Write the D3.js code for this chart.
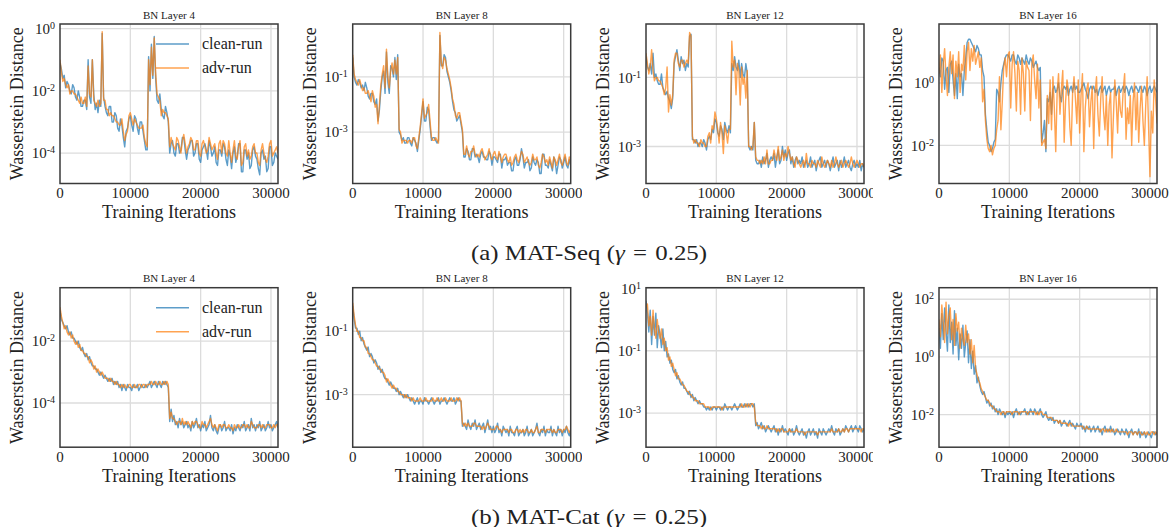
<!DOCTYPE html>
<html>
<head>
<meta charset="utf-8">
<script src="https://cdn.jsdelivr.net/npm/d3@7"></script>
<style>
  body { margin: 0; background: #fff; }
  svg text { font-family: "Liberation Serif", "Times New Roman", serif; fill: #222; }
</style>
</head>
<body>
<svg id="fig" width="1169" height="527"></svg>
<script>
"use strict";

// logging interval of the runs, in iterations
var step = 200;
var xTicks = [0, 10000, 20000, 30000];
var layers = [4, 8, 12, 16];
var seriesNames = ["clean-run", "adv-run"];
var captions = ["(a) MAT-Seq", "(b) MAT-Cat"];

// all series: log10 of the Wasserstein distance, one value every `step` iterations
// (each row of 10 = 2000 iterations)

// ---- MAT-Seq ----
var seq4Clean = [-1.1,-1.3,-1.6,-1.5,-1.9,-1.7,-1.8,-2.0,-2.1,-1.8,
  -1.9,-2.2,-2.3,-2.0,-2.2,-2.5,-2.5,-2.3,-2.3,-2.6,
  -1.0,-2.2,-2.4,-1.0,-2.1,-2.6,-2.4,-2.7,-2.3,-2.5,
  -0.15,-2.2,-2.5,-2.7,-2.8,-2.5,-2.5,-3.0,-3.0,-2.7,
  -2.8,-3.2,-3.3,-2.9,-3.1,-3.5,-3.8,-3.3,-3.2,-2.9,
  -2.8,-3.1,-3.3,-2.8,-2.9,-3.2,-3.4,-3.0,-3.0,-3.3,
  -3.6,-3.9,-3.9,-0.9,-2.0,-0.5,-1.6,-0.25,-1.6,-2.3,
  -2.4,-2.1,-2.6,-2.8,-2.9,-2.5,-2.7,-3.0,-4.0,-3.7,
  -3.6,-4.0,-4.1,-3.7,-3.7,-4.0,-3.9,-3.5,-3.5,-3.9,
  -4.2,-3.9,-3.8,-3.6,-3.6,-4.1,-4.0,-3.7,-3.7,-4.2,
  -4.3,-3.9,-3.8,-3.7,-3.9,-4.2,-3.6,-3.8,-4.1,-4.0,
  -3.8,-4.3,-4.4,-3.9,-3.9,-4.1,-3.7,-3.8,-4.2,-4.4,
  -3.9,-4.1,-4.5,-4.0,-3.8,-4.3,-4.1,-3.7,-3.7,-4.6,
  -4.6,-3.9,-3.9,-4.2,-4.0,-4.5,-4.4,-3.9,-3.8,-4.1,
  -4.2,-4.5,-4.7,-4.0,-3.9,-4.2,-4.1,-4.6,-4.5,-3.8,
  -3.8,-4.4,-4.3,-4.0,-4.1,-4.2];
var seq4Adv = [-1.0,-1.4,-1.7,-1.6,-1.8,-1.9,-1.8,-2.1,-2.0,-2.0,
  -2.1,-2.1,-2.2,-2.3,-2.4,-2.2,-2.4,-2.4,-2.2,-2.5,
  -1.2,-2.1,-2.2,-1.0,-2.3,-2.4,-2.5,-2.3,-2.5,-2.4,
  -0.1,-2.3,-2.3,-2.6,-2.6,-2.8,-2.7,-2.8,-2.8,-2.9,
  -3.0,-3.0,-3.1,-3.1,-2.9,-3.3,-3.6,-3.4,-3.3,-2.8,
  -2.7,-2.9,-3.1,-2.9,-3.0,-3.1,-3.2,-3.2,-3.2,-3.1,
  -3.5,-3.7,-3.8,-1.0,-1.8,-0.6,-1.5,-0.3,-1.4,-2.1,
  -2.2,-2.3,-2.8,-2.6,-2.7,-2.7,-2.8,-2.9,-3.8,-3.5,
  -3.7,-3.8,-3.9,-3.5,-3.6,-3.8,-4.0,-3.6,-3.4,-3.7,
  -4.0,-3.8,-3.7,-3.5,-3.6,-3.9,-3.9,-3.6,-3.6,-4.0,
  -4.1,-3.7,-3.6,-3.8,-4.0,-3.9,-3.5,-3.7,-3.9,-3.8,
  -3.7,-4.0,-4.2,-3.7,-3.6,-4.0,-3.6,-3.7,-4.0,-4.1,
  -3.6,-4.0,-4.3,-3.9,-3.6,-4.1,-4.2,-3.8,-3.6,-4.4,
  -4.3,-3.8,-3.7,-4.1,-3.9,-4.2,-4.1,-3.8,-3.7,-4.0,
  -4.0,-4.3,-4.4,-3.9,-3.7,-4.0,-4.2,-4.3,-4.1,-3.7,
  -3.6,-4.1,-4.0,-3.9,-3.8,-4.0];

var seq8Clean = [-0.3,-1.0,-1.2,-1.3,-1.1,-1.2,-1.4,-1.3,-1.5,-1.2,
  -1.4,-1.7,-1.8,-1.6,-1.6,-1.9,-2.0,-1.8,-2.6,-2.2,
  -1.5,-1.0,-0.8,-1.6,-0.1,-1.2,-1.6,-0.6,-0.7,-1.0,
  -0.3,-1.1,-0.2,-3.0,-3.1,-3.3,-3.2,-3.4,-3.4,-3.2,
  -3.2,-3.4,-3.5,-3.2,-3.3,-3.4,-3.7,-3.3,-2.9,-2.4,
  -1.9,-2.6,-2.6,-2.1,-2.2,-2.8,-3.3,-3.2,-3.2,-3.3,
  -3.4,-3.3,0.5,-0.6,-0.6,-0.2,-0.3,-0.8,-1.0,-1.2,
  -1.5,-1.9,-2.2,-2.3,-2.6,-2.5,-2.4,-2.7,-3.0,-3.9,
  -3.9,-3.6,-3.7,-4.0,-4.0,-3.6,-3.6,-3.9,-3.8,-3.9,
  -4.1,-3.8,-3.7,-3.9,-3.9,-4.0,-4.0,-3.7,-3.8,-4.2,
  -3.9,-3.9,-4.0,-4.1,-3.8,-3.8,-4.3,-4.0,-4.0,-3.9,
  -4.2,-4.1,-4.1,-4.4,-4.4,-4.0,-3.9,-4.2,-4.2,-4.0,
  -3.6,-3.9,-4.3,-4.1,-4.1,-4.0,-4.4,-4.3,-3.9,-4.1,
  -4.2,-4.0,-4.1,-4.5,-4.5,-3.8,-3.8,-4.2,-4.2,-4.3,
  -4.0,-4.2,-4.4,-3.9,-4.1,-4.5,-4.2,-3.9,-4.0,-4.3,
  -4.1,-3.9,-4.2,-4.3,-4.0,-4.2];
var seq8Adv = [-0.2,-0.9,-1.1,-1.2,-1.3,-1.1,-1.3,-1.5,-1.4,-1.6,
  -1.6,-1.5,-1.7,-1.9,-1.5,-1.7,-2.1,-2.0,-2.7,-2.0,
  -1.3,-0.9,-0.6,-1.4,0.0,-1.0,-1.4,-0.8,-0.5,-0.9,
  -0.4,-0.9,-0.3,-2.9,-3.0,-3.4,-3.3,-3.3,-3.3,-3.4,
  -3.3,-3.3,-3.4,-3.2,-3.2,-3.5,-3.6,-3.2,-2.8,-2.3,
  -1.8,-2.5,-2.4,-2.3,-2.0,-2.6,-3.2,-3.3,-3.3,-3.2,
  -3.3,-3.4,0.6,-0.5,-0.7,-0.3,-0.4,-0.7,-0.9,-1.1,
  -1.4,-1.8,-2.0,-2.4,-2.5,-2.3,-2.3,-2.6,-2.9,-3.8,
  -3.8,-3.5,-3.8,-3.9,-3.7,-3.7,-3.5,-3.8,-3.9,-3.8,
  -3.9,-3.7,-3.6,-3.8,-4.0,-3.9,-3.8,-3.6,-3.9,-4.0,
  -3.8,-3.7,-3.9,-4.0,-3.7,-3.9,-4.1,-3.9,-3.8,-3.8,
  -4.0,-4.1,-3.9,-4.2,-4.1,-3.9,-3.8,-4.0,-4.1,-3.9,
  -3.7,-3.8,-4.1,-4.0,-3.9,-4.1,-4.2,-4.1,-3.8,-4.0,
  -4.0,-3.9,-4.2,-4.3,-4.1,-3.8,-3.9,-4.1,-4.0,-4.2,
  -3.9,-4.1,-4.3,-3.9,-4.0,-4.2,-4.0,-3.8,-4.1,-4.2,
  -4.0,-3.8,-4.1,-4.2,-3.9,-4.1];

var seq12Clean = [-0.4,-0.7,-0.8,-0.6,-0.9,-0.3,-1.0,-0.9,-1.1,-1.2,
  -1.2,-0.9,-1.3,-1.4,-1.5,-1.4,-1.6,-1.7,-1.9,-1.6,
  -0.6,-0.4,-0.2,-0.5,-0.8,-0.4,-0.6,-0.5,-0.8,-0.6,
  -0.7,0.2,0.25,-2.8,-2.8,-2.9,-2.8,-3.0,-2.9,-2.9,
  -3.0,-2.8,-2.9,-3.1,-2.8,-2.7,-2.8,-2.5,-2.6,-2.2,
  -2.3,-2.6,-2.7,-2.4,-2.5,-2.8,-2.3,-2.5,-2.6,-2.4,
  -2.6,-0.6,-0.8,-0.4,-0.7,-0.8,-0.5,-1.0,-0.6,-0.9,
  -1.0,-0.6,-0.9,-3.0,-3.1,-3.0,-3.1,-2.3,-3.4,-3.5,
  -3.5,-3.4,-3.6,-3.3,-3.5,-3.4,-3.2,-3.6,-3.4,-3.3,
  -3.4,-3.2,-3.6,-3.3,-3.1,-3.5,-3.4,-3.0,-3.3,-3.1,
  -3.4,-3.2,-3.1,-3.5,-3.3,-3.6,-3.4,-3.3,-3.5,-3.4,
  -3.5,-3.3,-3.6,-3.5,-3.4,-3.6,-3.5,-3.3,-3.6,-3.5,
  -3.4,-3.7,-3.5,-3.4,-3.3,-3.6,-3.5,-3.4,-3.6,-3.4,
  -3.5,-3.7,-3.5,-3.3,-3.6,-3.5,-3.4,-3.7,-3.4,-3.6,
  -3.5,-3.3,-3.6,-3.5,-3.4,-3.6,-3.7,-3.5,-3.4,-3.6,
  -3.5,-3.6,-3.4,-3.7,-3.5,-3.6];
var seq12Adv = [-0.3,-0.6,-0.9,-0.7,-0.2,-0.8,-1.1,-1.0,-1.0,-1.1,
  -1.1,-1.2,-1.3,-1.5,-1.3,-0.7,-2.0,-1.5,-1.8,-1.5,
  -0.5,-0.3,-0.3,-0.6,-0.7,-0.5,-0.5,-0.7,-0.6,-0.5,
  -0.6,0.3,0.2,-2.7,-2.9,-2.8,-2.9,-2.9,-3.0,-2.8,
  -2.9,-2.9,-3.0,-3.0,-2.7,-2.6,-2.9,-2.4,-2.5,-2.0,
  -2.2,-2.5,-2.9,-2.3,-2.6,-3.2,-2.4,-2.6,-2.9,-2.5,
  -2.5,0.05,-0.7,-0.5,-1.5,-0.6,-0.8,-1.8,-0.7,-1.2,
  -1.0,-1.6,-0.8,-3.0,-3.0,-3.1,-3.0,-2.3,-3.3,-3.4,
  -3.4,-3.5,-3.4,-3.5,-3.3,-3.5,-3.1,-3.5,-3.5,-3.4,
  -3.4,-3.1,-3.3,-3.4,-3.0,-3.4,-3.3,-3.1,-3.4,-3.2,
  -3.3,-3.0,-3.2,-3.4,-3.3,-3.5,-3.6,-3.3,-3.4,-3.5,
  -3.6,-3.5,-3.4,-3.6,-3.2,-3.5,-3.5,-3.6,-3.4,-3.5,
  -3.5,-3.6,-3.4,-3.5,-3.6,-3.3,-3.5,-3.6,-3.5,-3.4,
  -3.5,-3.6,-3.4,-3.6,-3.5,-3.3,-3.5,-3.6,-3.5,-3.4,
  -3.6,-3.5,-3.4,-3.5,-3.6,-3.5,-3.3,-3.5,-3.6,-3.5,
  -3.4,-3.5,-3.6,-3.5,-3.5,-3.6];

var seq16Clean = [0.5,0.2,0.8,0.7,-0.2,0.4,0.5,-0.3,0.6,0.7,
  0.1,-0.4,0.3,-0.5,0.6,0.2,0.3,-0.4,0.4,0.8,
  1.3,1.4,1.4,1.3,1.2,1.1,1.0,1.2,1.1,0.9,
  0.9,0.4,0.2,-1.0,-1.5,-1.9,-2.0,-2.2,-2.1,-1.9,
  -1.8,-0.2,-0.3,-0.6,0.0,0.4,0.6,0.8,0.9,0.9,
  0.8,0.7,0.9,0.9,0.7,0.6,0.9,0.8,0.6,0.8,
  0.7,0.6,0.9,0.7,0.6,0.8,0.7,0.5,0.6,0.7,
  0.5,0.4,0.5,-1.9,-1.6,-1.2,-2.2,-0.5,-0.6,-0.3,
  -1.0,-0.2,-0.1,-0.3,-0.2,0.0,-0.4,-0.6,-0.2,-0.1,
  -0.2,-0.1,-0.4,-0.2,-0.1,-0.3,0.0,-0.2,-0.1,-0.3,
  -0.3,-0.2,-0.1,0.0,-0.2,-0.3,-0.5,-0.2,-0.1,-0.2,
  -0.1,-0.3,-0.2,-0.4,-0.2,-0.1,-0.3,-0.2,-0.1,-0.4,
  -0.2,-0.1,-0.3,-0.2,-0.2,-0.1,-0.4,-0.2,-0.1,-0.3,
  -0.2,-0.1,-0.3,-0.1,-0.2,-0.4,-0.2,-0.1,-0.3,-0.2,
  -0.1,-0.2,-0.3,-0.1,-0.2,-0.3,-0.1,-0.2,-0.4,-0.2,
  -0.1,-0.3,-0.2,-0.1,-0.2,-0.3];
var seq16Adv = [0.3,0.9,-0.3,0.6,1.1,0.2,-0.4,0.5,1.0,0.3,
  0.9,-0.5,0.7,0.2,1.0,-0.3,0.6,0.4,1.2,0.1,
  1.0,1.3,0.4,1.1,0.7,1.2,0.6,0.8,1.0,0.5,
  0.8,-0.6,-0.2,-1.2,-1.8,-2.1,-2.2,-2.0,-2.3,-2.1,
  -2.0,-1.5,-1.2,0.2,-1.5,-0.6,0.5,0.8,0.2,0.9,
  1.0,-0.8,0.6,1.0,0.3,-0.9,0.7,0.4,-1.0,0.8,
  0.3,-0.9,0.7,0.5,0.4,-1.2,0.6,0.9,0.1,-0.5,
  0.6,-0.8,0.1,-2.0,-1.9,-1.8,-2.1,-0.4,-1.3,0.1,
  -1.5,0.2,-0.8,-2.2,-0.3,0.3,-1.0,-0.2,0.4,-1.9,
  -0.6,0.1,-0.2,-1.4,-2.0,-0.3,0.2,-0.5,-1.3,0.1,
  -1.6,-0.4,0.3,-2.2,-0.8,-0.2,0.0,-1.4,-0.6,-0.1,
  -2.1,-0.3,0.2,-1.0,-1.7,-0.5,0.2,-0.9,-1.5,-0.4,
  -2.0,-0.7,-0.3,-2.4,-1.1,0.1,-0.6,-1.6,-0.2,-0.9,
  -1.1,-0.2,0.3,-1.8,-0.8,-1.3,-0.4,-2.0,-0.6,0.0,
  -1.5,-0.3,-1.9,-0.8,-0.1,-1.2,-2.0,-0.7,0.2,-1.4,
  -3.0,-0.9,-1.6,0.1,-0.5,-1.3];

// ---- MAT-Cat ----
var cat4Clean = [-1.0,-1.3,-1.4,-1.5,-1.6,-1.5,-1.7,-1.8,-1.7,-1.9,
  -1.9,-2.0,-2.1,-2.0,-2.2,-2.3,-2.2,-2.4,-2.5,-2.4,
  -2.6,-2.5,-2.7,-2.8,-2.8,-2.9,-2.9,-3.0,-3.1,-3.0,
  -3.1,-3.2,-3.1,-3.2,-3.3,-3.2,-3.3,-3.2,-3.4,-3.3,
  -3.4,-3.3,-3.5,-3.4,-3.6,-3.4,-3.5,-3.6,-3.4,-3.5,
  -3.5,-3.6,-3.4,-3.5,-3.5,-3.4,-3.6,-3.5,-3.4,-3.5,
  -3.5,-3.4,-3.5,-3.4,-3.3,-3.5,-3.4,-3.3,-3.4,-3.5,
  -3.3,-3.4,-3.5,-3.3,-3.4,-3.3,-3.4,-3.5,-4.6,-4.2,
  -4.6,-4.4,-4.7,-4.6,-4.8,-4.5,-4.7,-4.6,-4.8,-4.7,
  -4.6,-4.8,-4.7,-4.9,-4.6,-4.8,-4.7,-4.5,-4.8,-4.7,
  -4.9,-4.7,-4.8,-4.6,-4.9,-4.8,-4.7,-4.4,-4.8,-4.9,
  -4.7,-4.9,-5.0,-4.8,-4.7,-4.9,-4.8,-4.6,-4.9,-4.8,
  -4.8,-4.9,-4.7,-5.0,-4.8,-4.9,-4.7,-4.8,-4.9,-4.7,
  -4.8,-4.6,-4.9,-4.8,-4.7,-4.9,-4.5,-4.8,-4.7,-4.9,
  -4.7,-4.8,-4.6,-4.9,-4.8,-4.7,-4.9,-4.8,-4.6,-4.8,
  -4.7,-4.9,-4.8,-4.7,-4.6,-4.8];
var cat4Adv = [-0.9,-1.2,-1.4,-1.6,-1.5,-1.7,-1.8,-1.7,-1.9,-1.8,
  -2.0,-2.1,-2.0,-2.2,-2.1,-2.3,-2.3,-2.4,-2.4,-2.5,
  -2.5,-2.7,-2.6,-2.7,-2.9,-2.8,-3.0,-2.9,-3.0,-3.1,
  -3.0,-3.1,-3.2,-3.2,-3.2,-3.3,-3.2,-3.3,-3.3,-3.4,
  -3.3,-3.4,-3.4,-3.5,-3.4,-3.5,-3.4,-3.5,-3.5,-3.4,
  -3.4,-3.5,-3.5,-3.4,-3.5,-3.5,-3.4,-3.4,-3.5,-3.4,
  -3.4,-3.5,-3.4,-3.4,-3.4,-3.3,-3.4,-3.4,-3.3,-3.4,
  -3.4,-3.3,-3.4,-3.4,-3.3,-3.4,-3.3,-3.4,-4.5,-4.3,
  -4.5,-4.5,-4.6,-4.7,-4.6,-4.6,-4.7,-4.5,-4.7,-4.6,
  -4.7,-4.6,-4.7,-4.8,-4.6,-4.7,-4.6,-4.6,-4.7,-4.8,
  -4.8,-4.6,-4.7,-4.7,-4.8,-4.7,-4.6,-4.5,-4.7,-4.8,
  -4.7,-4.8,-4.9,-4.7,-4.7,-4.8,-4.7,-4.7,-4.8,-4.8,
  -4.7,-4.8,-4.8,-4.9,-4.7,-4.8,-4.8,-4.7,-4.8,-4.8,
  -4.7,-4.7,-4.8,-4.7,-4.8,-4.8,-4.6,-4.7,-4.8,-4.8,
  -4.8,-4.7,-4.7,-4.8,-4.7,-4.8,-4.8,-4.7,-4.7,-4.7,
  -4.8,-4.8,-4.7,-4.8,-4.7,-4.7];

var cat8Clean = [-0.2,-0.6,-0.9,-0.9,-1.1,-1.0,-1.3,-1.2,-1.4,-1.5,
  -1.6,-1.5,-1.8,-1.7,-1.8,-2.0,-1.9,-2.0,-2.2,-2.1,
  -2.3,-2.2,-2.4,-2.5,-2.5,-2.6,-2.7,-2.6,-2.7,-2.8,
  -2.8,-2.9,-2.8,-3.0,-2.9,-3.0,-3.1,-3.0,-3.1,-3.0,
  -3.1,-3.2,-3.1,-3.2,-3.3,-3.2,-3.1,-3.3,-3.2,-3.2,
  -3.3,-3.1,-3.2,-3.2,-3.3,-3.2,-3.1,-3.2,-3.3,-3.2,
  -3.2,-3.1,-3.3,-3.2,-3.2,-3.1,-3.2,-3.3,-3.2,-3.1,
  -3.2,-3.2,-3.1,-3.3,-3.2,-3.1,-3.2,-3.2,-4.0,-3.9,
  -4.0,-4.1,-3.8,-4.0,-4.1,-3.9,-4.0,-3.8,-4.1,-4.0,
  -3.9,-4.1,-4.0,-3.9,-4.2,-4.0,-3.8,-4.1,-4.0,-4.2,
  -4.0,-4.2,-4.1,-3.9,-4.2,-4.1,-4.3,-4.0,-4.1,-4.2,
  -4.1,-4.3,-4.0,-4.2,-4.2,-4.3,-4.1,-4.0,-4.3,-4.2,
  -4.2,-4.1,-4.3,-4.2,-4.0,-4.3,-4.2,-4.1,-4.3,-4.2,
  -4.1,-3.9,-4.2,-4.3,-4.1,-4.2,-4.0,-4.3,-4.1,-4.2,
  -4.2,-4.0,-4.3,-4.1,-4.2,-4.3,-4.0,-4.2,-4.1,-4.3,
  -4.1,-4.2,-4.0,-4.2,-4.3,-4.1];
var cat8Adv = [-0.1,-0.5,-0.8,-1.0,-1.0,-1.2,-1.2,-1.3,-1.3,-1.5,
  -1.5,-1.7,-1.7,-1.8,-1.9,-1.9,-2.0,-2.1,-2.1,-2.2,
  -2.2,-2.3,-2.3,-2.4,-2.6,-2.5,-2.6,-2.7,-2.8,-2.7,
  -2.8,-2.8,-2.9,-2.9,-3.0,-3.0,-3.0,-3.1,-3.0,-3.1,
  -3.1,-3.1,-3.2,-3.1,-3.2,-3.2,-3.2,-3.2,-3.1,-3.2,
  -3.2,-3.2,-3.1,-3.2,-3.2,-3.2,-3.2,-3.1,-3.2,-3.2,
  -3.1,-3.2,-3.2,-3.1,-3.2,-3.2,-3.1,-3.2,-3.2,-3.2,
  -3.1,-3.2,-3.2,-3.2,-3.1,-3.2,-3.1,-3.2,-3.9,-4.0,
  -3.9,-4.0,-3.9,-4.0,-4.0,-4.0,-3.9,-3.9,-4.0,-4.0,
  -4.0,-4.0,-4.1,-4.0,-4.1,-4.0,-3.9,-4.0,-4.1,-4.1,
  -4.1,-4.1,-4.0,-4.0,-4.1,-4.1,-4.2,-4.1,-4.1,-4.1,
  -4.1,-4.2,-4.1,-4.1,-4.2,-4.2,-4.1,-4.1,-4.2,-4.1,
  -4.2,-4.1,-4.2,-4.1,-4.1,-4.2,-4.2,-4.1,-4.2,-4.2,
  -4.1,-4.0,-4.2,-4.2,-4.1,-4.1,-4.1,-4.2,-4.1,-4.1,
  -4.1,-4.1,-4.2,-4.1,-4.2,-4.2,-4.1,-4.1,-4.1,-4.2,
  -4.1,-4.1,-4.0,-4.1,-4.2,-4.1];

var cat12Clean = [0.6,0.2,-0.4,0.3,-0.8,0.1,-0.5,0.2,-0.9,-0.2,
  -0.5,-0.9,-0.3,-1.0,-0.7,-1.2,-1.1,-1.4,-1.3,-1.6,
  -1.7,-1.6,-1.9,-1.8,-2.0,-2.1,-2.0,-2.2,-2.2,-2.3,
  -2.4,-2.3,-2.5,-2.4,-2.6,-2.5,-2.6,-2.7,-2.6,-2.7,
  -2.7,-2.8,-2.8,-2.9,-2.8,-2.9,-2.8,-2.9,-2.8,-2.8,
  -2.9,-2.8,-2.8,-2.9,-2.8,-2.9,-2.7,-2.8,-2.9,-2.8,
  -2.8,-2.9,-2.8,-2.7,-2.8,-2.9,-2.8,-2.7,-2.8,-2.8,
  -2.7,-2.8,-2.7,-2.8,-2.7,-2.7,-2.8,-2.7,-3.4,-3.3,
  -3.5,-3.4,-3.3,-3.5,-3.4,-3.6,-3.5,-3.4,-3.5,-3.6,
  -3.5,-3.4,-3.6,-3.5,-3.7,-3.5,-3.6,-3.4,-3.6,-3.5,
  -3.6,-3.7,-3.5,-3.6,-3.5,-3.7,-3.6,-3.4,-3.6,-3.7,
  -3.6,-3.5,-3.7,-3.6,-3.8,-3.6,-3.5,-3.7,-3.6,-3.5,
  -3.7,-3.6,-3.8,-3.5,-3.6,-3.7,-3.5,-3.6,-3.7,-3.6,
  -3.5,-3.6,-3.4,-3.6,-3.7,-3.5,-3.6,-3.5,-3.7,-3.6,
  -3.5,-3.6,-3.4,-3.5,-3.6,-3.5,-3.4,-3.6,-3.5,-3.4,
  -3.5,-3.6,-3.4,-3.5,-3.6,-3.5];
var cat12Adv = [0.4,0.5,-0.2,0.1,-0.5,0.3,-0.3,-0.6,0.0,-0.4,
  -0.6,-0.3,-0.8,-0.6,-1.0,-0.9,-1.3,-1.2,-1.5,-1.4,
  -1.6,-1.8,-1.7,-1.9,-1.9,-2.0,-2.1,-2.1,-2.2,-2.3,
  -2.3,-2.4,-2.4,-2.5,-2.5,-2.6,-2.6,-2.6,-2.7,-2.7,
  -2.7,-2.7,-2.8,-2.8,-2.8,-2.8,-2.9,-2.8,-2.8,-2.8,
  -2.8,-2.8,-2.8,-2.8,-2.9,-2.8,-2.8,-2.8,-2.8,-2.8,
  -2.8,-2.8,-2.8,-2.8,-2.8,-2.8,-2.8,-2.8,-2.7,-2.8,
  -2.8,-2.7,-2.8,-2.7,-2.8,-2.7,-2.7,-2.8,-3.3,-3.4,
  -3.4,-3.4,-3.5,-3.4,-3.5,-3.5,-3.4,-3.5,-3.5,-3.5,
  -3.5,-3.5,-3.5,-3.6,-3.5,-3.6,-3.5,-3.5,-3.6,-3.6,
  -3.6,-3.6,-3.5,-3.6,-3.6,-3.6,-3.6,-3.5,-3.6,-3.6,
  -3.6,-3.6,-3.6,-3.7,-3.6,-3.6,-3.6,-3.6,-3.6,-3.6,
  -3.6,-3.6,-3.7,-3.6,-3.6,-3.6,-3.6,-3.6,-3.6,-3.6,
  -3.6,-3.6,-3.5,-3.6,-3.6,-3.6,-3.6,-3.5,-3.6,-3.6,
  -3.5,-3.6,-3.5,-3.5,-3.6,-3.5,-3.5,-3.5,-3.5,-3.5,
  -3.5,-3.5,-3.5,-3.6,-3.5,-3.5];

var cat16Clean = [1.0,0.3,1.5,0.6,1.7,0.9,0.2,1.8,0.5,1.2,
  0.1,1.6,0.4,1.0,-0.1,0.8,0.3,1.1,0.0,0.5,
  0.9,-0.2,0.6,-0.4,0.2,-0.6,-0.3,-0.9,-0.7,-1.0,
  -1.2,-1.3,-1.2,-1.4,-1.6,-1.5,-1.7,-1.6,-1.8,-1.7,
  -1.9,-1.8,-2.0,-1.8,-1.9,-2.0,-1.9,-2.1,-1.9,-2.0,
  -1.9,-2.0,-1.9,-2.1,-1.9,-1.8,-2.0,-1.9,-2.0,-1.9,
  -1.9,-1.8,-2.0,-1.9,-2.0,-1.8,-1.9,-2.0,-1.8,-1.9,
  -2.0,-1.9,-1.8,-2.0,-2.1,-2.0,-1.9,-2.1,-2.2,-2.1,
  -2.2,-2.1,-2.3,-2.2,-2.2,-2.3,-2.2,-2.4,-2.3,-2.2,
  -2.3,-2.4,-2.3,-2.2,-2.4,-2.3,-2.4,-2.5,-2.3,-2.4,
  -2.4,-2.3,-2.5,-2.4,-2.6,-2.4,-2.5,-2.4,-2.6,-2.5,
  -2.4,-2.6,-2.5,-2.4,-2.6,-2.5,-2.7,-2.5,-2.4,-2.6,
  -2.5,-2.6,-2.4,-2.6,-2.5,-2.7,-2.6,-2.5,-2.6,-2.7,
  -2.5,-2.6,-2.7,-2.5,-2.6,-2.8,-2.6,-2.5,-2.7,-2.6,
  -2.6,-2.7,-2.5,-2.8,-2.6,-2.7,-2.6,-2.8,-2.7,-2.6,
  -2.7,-2.8,-2.6,-2.6,-2.7,-2.6];
var cat16Adv = [1.3,0.7,1.8,1.2,0.5,1.9,0.8,1.4,1.7,0.6,
  1.3,0.4,1.5,0.9,1.2,0.3,1.0,0.6,0.4,1.1,
  0.5,0.8,0.1,0.6,-0.2,0.4,-0.4,-0.6,-0.8,-0.9,
  -1.1,-1.2,-1.3,-1.4,-1.5,-1.5,-1.6,-1.7,-1.7,-1.8,
  -1.8,-1.9,-1.9,-1.9,-2.0,-1.9,-1.9,-2.0,-1.9,-1.9,
  -1.9,-1.9,-2.0,-1.9,-1.9,-1.9,-1.9,-2.0,-1.9,-1.9,
  -1.9,-1.9,-1.9,-2.0,-1.9,-1.9,-1.9,-1.9,-1.9,-2.0,
  -1.9,-2.0,-1.9,-1.9,-2.0,-2.0,-2.0,-2.1,-2.1,-2.1,
  -2.1,-2.2,-2.2,-2.2,-2.2,-2.3,-2.2,-2.3,-2.3,-2.3,
  -2.3,-2.3,-2.4,-2.3,-2.3,-2.4,-2.4,-2.4,-2.4,-2.4,
  -2.4,-2.4,-2.4,-2.5,-2.5,-2.4,-2.5,-2.5,-2.5,-2.5,
  -2.5,-2.5,-2.5,-2.5,-2.5,-2.6,-2.5,-2.5,-2.6,-2.5,
  -2.6,-2.5,-2.6,-2.5,-2.6,-2.6,-2.5,-2.6,-2.6,-2.6,
  -2.6,-2.6,-2.6,-2.6,-2.7,-2.6,-2.6,-2.6,-2.7,-2.6,
  -2.6,-2.7,-2.6,-2.6,-2.7,-2.7,-2.6,-2.7,-2.6,-2.7,
  -2.7,-2.6,-2.6,-2.7,-2.6,-2.7];

// y tick values of each panel
var seq4Ticks = [1, 1e-2, 1e-4];
var seq8Ticks = [1e-1, 1e-3];
var seq12Ticks = [1e-1, 1e-3];
var seq16Ticks = [1, 1e-2];
var cat4Ticks = [1e-2, 1e-4];
var cat8Ticks = [1e-1, 1e-3];
var cat12Ticks = [10, 1e-1, 1e-3];
var cat16Ticks = [100, 1, 1e-2];

// ---- layout ----
var colX = [60, 352.7, 646, 939];
var rowY = [24, 287.7];
var plotW = 218, plotH = 159.5;
var imgEdge = [0, 291, 582, 873, 1169];   // each sub-figure was its own image
var blue = "#1f77b4", orange = "#ff7f0e";

var panels = [
  { row: 0, col: 0, clean: seq4Clean, adv: seq4Adv, ticks: seq4Ticks, logDom: [-4.98, 0.15], legend: true },
  { row: 0, col: 1, clean: seq8Clean, adv: seq8Adv, ticks: seq8Ticks, logDom: [-4.86, 0.91] },
  { row: 0, col: 2, clean: seq12Clean, adv: seq12Adv, ticks: seq12Ticks, logDom: [-4.07, 0.545] },
  { row: 0, col: 3, clean: seq16Clean, adv: seq16Adv, ticks: seq16Ticks, logDom: [-3.22, 1.89] },
  { row: 1, col: 0, clean: cat4Clean, adv: cat4Adv, ticks: cat4Ticks, logDom: [-5.43, -0.27], legend: true },
  { row: 1, col: 1, clean: cat8Clean, adv: cat8Adv, ticks: cat8Ticks, logDom: [-4.66, 0.375] },
  { row: 1, col: 2, clean: cat12Clean, adv: cat12Adv, ticks: cat12Ticks, logDom: [-4.09, 1.02] },
  { row: 1, col: 3, clean: cat16Clean, adv: cat16Adv, ticks: cat16Ticks, logDom: [-3.13, 2.4] }
];

var svg = d3.select("#fig");
var defs = svg.append("defs");

var x = d3.scaleLinear().domain([0, 31000]).range([0, plotW]);

function drawPanel(p, k) {
  var left = colX[p.col], top = rowY[p.row];

  defs.append("clipPath").attr("id", "img" + k)
    .append("rect")
    .attr("x", imgEdge[p.col]).attr("y", top - 30)
    .attr("width", imgEdge[p.col + 1] - imgEdge[p.col]).attr("height", 240);
  defs.append("clipPath").attr("id", "plot" + k)
    .append("rect").attr("width", plotW).attr("height", plotH);

  var g = svg.append("g").attr("clip-path", "url(#img" + k + ")")
    .append("g").attr("transform", "translate(" + left + "," + top + ")");

  var y = d3.scaleLog()
    .domain([Math.pow(10, p.logDom[0]), Math.pow(10, p.logDom[1])])
    .range([plotH, 0]);

  // grid
  var grid = g.append("g").attr("stroke", "#dcdcdc").attr("stroke-width", 1.3);
  grid.selectAll(".gx").data(xTicks.slice(1)).enter().append("line")
    .attr("x1", function (d) { return x(d); }).attr("x2", function (d) { return x(d); })
    .attr("y1", 0).attr("y2", plotH);
  grid.selectAll(".gy").data(p.ticks).enter().append("line")
    .attr("x1", 0).attr("x2", plotW)
    .attr("y1", function (d) { return y(d); }).attr("y2", function (d) { return y(d); });

  // series
  var line = d3.line()
    .x(function (d, i) { return x(i * step); })
    .y(function (d) { return y(Math.pow(10, d)); });
  var lines = g.append("g").attr("clip-path", "url(#plot" + k + ")");
  [[p.clean, blue], [p.adv, orange]].forEach(function (s) {
    lines.append("path").datum(s[0])
      .attr("d", line)
      .attr("fill", "none")
      .attr("stroke", s[1])
      .attr("stroke-opacity", 0.72)
      .attr("stroke-width", 1.4)
      .attr("stroke-linejoin", "round");
  });

  // frame
  g.append("rect").attr("width", plotW).attr("height", plotH)
    .attr("fill", "none").attr("stroke", "#3a3a3a").attr("stroke-width", 1.5);

  // x tick labels
  g.selectAll(".xt").data(xTicks).enter().append("text")
    .attr("x", function (d) { return x(d); })
    .attr("y", plotH + 14.7)
    .attr("text-anchor", "middle")
    .attr("font-size", 15)
    .text(function (d) { return d; });

  // y tick labels, 10 with exponent
  var yt = g.selectAll(".yt").data(p.ticks).enter().append("text")
    .attr("x", -5)
    .attr("y", function (d) { return y(d); })
    .attr("dy", "0.35em")
    .attr("text-anchor", "end")
    .attr("font-size", 15);
  yt.append("tspan").text("10");
  yt.append("tspan").attr("dy", "-0.5em").attr("font-size", 10)
    .text(function (d) { return Math.round(Math.log10(d)); });

  // labels
  g.append("text")
    .attr("transform", "translate(-37," + plotH / 2 + ") rotate(-90)")
    .attr("text-anchor", "middle").attr("font-size", 18)
    .text("Wasserstein Distance");
  g.append("text")
    .attr("x", plotW / 2).attr("y", 194)
    .attr("text-anchor", "middle").attr("font-size", 18)
    .text("Training Iterations");
  g.append("text")
    .attr("x", plotW / 2).attr("y", -5.5)
    .attr("text-anchor", "middle").attr("font-size", 11)
    .text("BN Layer " + layers[p.col]);

  if (p.legend) {
    var lg = g.append("g");
    [blue, orange].forEach(function (c, i) {
      var ly = 20 + i * 24;
      lg.append("line").attr("x1", 96).attr("x2", 129).attr("y1", ly).attr("y2", ly)
        .attr("stroke", c).attr("stroke-opacity", 0.72).attr("stroke-width", 1.4);
      lg.append("text").attr("x", 142).attr("y", ly + 5).attr("font-size", 16)
        .text(seriesNames[i]);
    });
  }
}

panels.forEach(drawPanel);

// sub-figure captions
[259.5, 523.5].forEach(function (by, r) {
  var t = svg.append("text").attr("x", 589).attr("y", by)
    .attr("text-anchor", "middle").attr("font-size", 21)
    .attr("textLength", 236).attr("lengthAdjust", "spacingAndGlyphs");
  t.append("tspan").text(captions[r] + " (");
  t.append("tspan").attr("font-style", "italic").text("\u03b3");
  t.append("tspan").text("\u2004=\u20040.25)");
});
</script>
</body>
</html>
